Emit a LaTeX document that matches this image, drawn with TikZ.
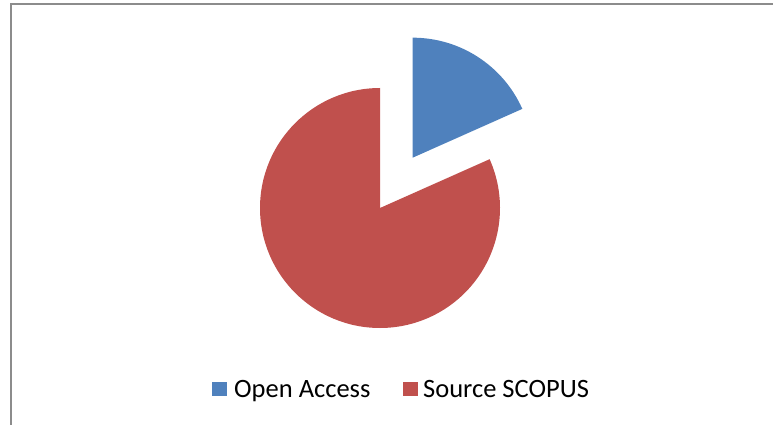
\documentclass[tikz,border=0pt]{standalone}
\usepackage{fontspec}
\setmainfont{Carlito}
\usetikzlibrary{calc}
\definecolor{oablue}{HTML}{4F81BD}
\definecolor{scred}{HTML}{C0504D}
\definecolor{frame}{HTML}{8C8C8C}
\begin{document}
\begin{tikzpicture}[x=1pt,y=-1pt,
  legendbox/.style={minimum size=14.5pt,inner sep=0pt},
  legendtext/.style={font=\fontsize{26.5}{30}\selectfont,anchor=base west,inner sep=0pt}]
\useasboundingbox (0,0) rectangle (773,425);
% chart frame, running off the right and bottom edges
\draw[frame,line width=1.6pt] (11,440) -- (11,3.8) -- (790,3.8);
% pie: centre (380,208), radius 120 (y axis points down, so angles are negated)
\coordinate (c) at (380,208);
% Source SCOPUS slice
\fill[scred] (c) -- ++(-90:120) arc[start angle=-90,end angle=-384,radius=120] -- cycle;
% Open Access slice, pulled out along its bisector
\coordinate (cb) at ($(c)+(-57:60)$);
\fill[oablue] (cb) -- ++(-24:120) arc[start angle=-24,end angle=-90,radius=120] -- cycle;
% legend
\node[legendbox,fill=oablue] (kb) at (219.5,389) {};
\node[legendtext] (tb) at (234,397) {Open Access};
\node[legendbox,fill=scred] (kr) at (410.5,389) {};
\node[legendtext] (tr) at (423,397) {Source SCOPUS};
\end{tikzpicture}
\end{document}
